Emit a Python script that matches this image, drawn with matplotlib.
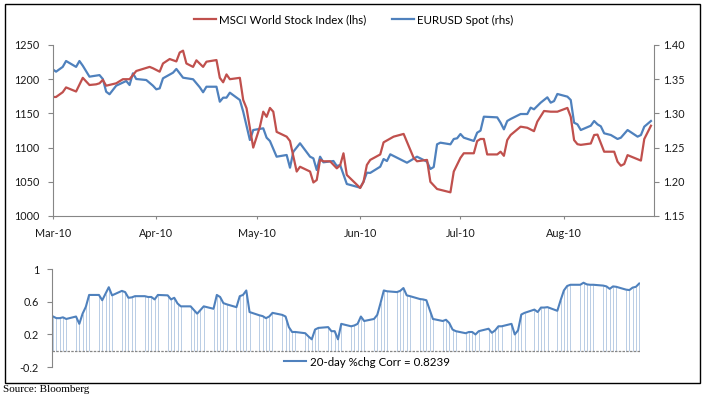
import numpy as np
import pandas as pd
import matplotlib
matplotlib.use("Agg")
import matplotlib.pyplot as plt
import matplotlib.dates as mdates
from matplotlib.patches import Rectangle

plt.rcParams['font.family'] = ['Lato', 'DejaVu Sans']

# MSCI World Stock Index (lhs)
msci_dates = ['2010-03-01', '2010-03-02', '2010-03-04', '2010-03-05', '2010-03-07', '2010-03-08',
              '2010-03-10', '2010-03-12', '2010-03-14', '2010-03-15', '2010-03-16', '2010-03-17',
              '2010-03-20', '2010-03-22', '2010-03-24', '2010-03-26', '2010-03-27', '2010-03-30',
              '2010-03-31', '2010-04-02', '2010-04-03', '2010-04-05', '2010-04-07', '2010-04-08',
              '2010-04-09', '2010-04-10', '2010-04-12', '2010-04-13', '2010-04-15', '2010-04-16',
              '2010-04-19', '2010-04-20', '2010-04-21', '2010-04-22', '2010-04-23', '2010-04-26',
              '2010-04-27', '2010-04-28', '2010-04-30', '2010-05-02', '2010-05-03', '2010-05-04',
              '2010-05-05', '2010-05-06', '2010-05-07', '2010-05-10', '2010-05-11', '2010-05-13',
              '2010-05-14', '2010-05-17', '2010-05-18', '2010-05-19', '2010-05-20', '2010-05-21',
              '2010-05-23', '2010-05-25', '2010-05-26', '2010-05-27', '2010-05-28', '2010-06-01',
              '2010-06-02', '2010-06-03', '2010-06-04', '2010-06-07', '2010-06-08', '2010-06-11',
              '2010-06-14', '2010-06-17', '2010-06-18', '2010-06-21', '2010-06-22', '2010-06-24',
              '2010-06-28', '2010-06-29', '2010-07-01', '2010-07-02', '2010-07-05', '2010-07-06',
              '2010-07-07', '2010-07-08', '2010-07-09', '2010-07-12', '2010-07-13', '2010-07-14',
              '2010-07-15', '2010-07-16', '2010-07-19', '2010-07-21', '2010-07-23', '2010-07-24',
              '2010-07-26', '2010-07-28', '2010-07-30', '2010-08-02', '2010-08-03', '2010-08-04',
              '2010-08-05', '2010-08-06', '2010-08-09', '2010-08-10', '2010-08-11', '2010-08-13',
              '2010-08-16', '2010-08-17', '2010-08-18', '2010-08-19', '2010-08-20', '2010-08-24',
              '2010-08-25', '2010-08-27']
msci_vals = [1174, 1174, 1181, 1188, 1184, 1182,
             1202, 1191.5, 1192.5, 1194, 1199, 1190.5,
             1194, 1200, 1200, 1212, 1213.5, 1218,
             1216, 1211, 1223, 1229.5, 1226, 1239,
             1241.7, 1223, 1218, 1227.6, 1218, 1225.6,
             1228, 1202, 1195.5, 1207, 1200, 1202,
             1169.6, 1157.5, 1100, 1130.6, 1152.5, 1145,
             1158, 1152.5, 1123, 1116, 1109.6, 1065,
             1072, 1065, 1049, 1052.6, 1082, 1080,
             1080, 1069.7, 1074, 1091.7, 1060, 1041,
             1050, 1074.6, 1082, 1090, 1107.7, 1116,
             1120, 1085, 1080, 1082, 1050, 1039.5,
             1034.6, 1065, 1085, 1091.7, 1091.7, 1109.6,
             1112.6, 1112.6, 1090, 1090, 1094, 1088,
             1111, 1118.4, 1130.6, 1129, 1124, 1138,
             1153.5, 1152.5, 1152.5, 1158, 1145, 1111,
             1105, 1104, 1106, 1118.4, 1119, 1094,
             1094, 1079.4, 1073.5, 1076, 1089, 1081,
             1112.6, 1132]

# EURUSD Spot (rhs)
eur_dates = ['2010-03-01', '2010-03-02', '2010-03-04', '2010-03-05', '2010-03-08', '2010-03-09',
             '2010-03-10', '2010-03-12', '2010-03-15', '2010-03-16', '2010-03-17', '2010-03-18',
             '2010-03-20', '2010-03-23', '2010-03-24', '2010-03-25', '2010-03-26', '2010-03-29',
             '2010-03-31', '2010-04-01', '2010-04-02', '2010-04-03', '2010-04-06', '2010-04-07',
             '2010-04-09', '2010-04-12', '2010-04-14', '2010-04-15', '2010-04-16', '2010-04-19',
             '2010-04-20', '2010-04-21', '2010-04-22', '2010-04-23', '2010-04-26', '2010-04-27',
             '2010-04-29', '2010-04-30', '2010-05-03', '2010-05-04', '2010-05-05', '2010-05-07',
             '2010-05-10', '2010-05-11', '2010-05-12', '2010-05-14', '2010-05-17', '2010-05-18',
             '2010-05-19', '2010-05-20', '2010-05-21', '2010-05-24', '2010-05-25', '2010-05-26',
             '2010-05-28', '2010-06-01', '2010-06-02', '2010-06-03', '2010-06-04', '2010-06-07',
             '2010-06-08', '2010-06-09', '2010-06-10', '2010-06-15', '2010-06-18', '2010-06-21',
             '2010-06-22', '2010-06-23', '2010-06-24', '2010-06-25', '2010-06-28', '2010-06-29',
             '2010-06-30', '2010-07-01', '2010-07-02', '2010-07-05', '2010-07-06', '2010-07-07',
             '2010-07-08', '2010-07-12', '2010-07-13', '2010-07-14', '2010-07-15', '2010-07-16',
             '2010-07-19', '2010-07-21', '2010-07-22', '2010-07-23', '2010-07-25', '2010-07-27',
             '2010-07-28', '2010-07-29', '2010-07-30', '2010-08-02', '2010-08-03', '2010-08-04',
             '2010-08-05', '2010-08-06', '2010-08-09', '2010-08-10', '2010-08-11', '2010-08-12',
             '2010-08-13', '2010-08-15', '2010-08-17', '2010-08-18', '2010-08-20', '2010-08-23',
             '2010-08-24', '2010-08-25', '2010-08-27']
eur_vals = [1.3645, 1.361, 1.368, 1.3766, 1.368, 1.3766,
            1.3697, 1.3537, 1.356, 1.3503, 1.3317, 1.328,
            1.3405, 1.3474, 1.3415, 1.3586, 1.3503, 1.3488,
            1.3405, 1.3352, 1.3366, 1.3513, 1.3595, 1.365,
            1.3522, 1.3499, 1.3382, 1.3309, 1.339, 1.339,
            1.3171, 1.323, 1.323, 1.3303, 1.3196, 1.3025,
            1.2611, 1.2757, 1.2782, 1.2645, 1.2596, 1.2367,
            1.2392, 1.2206, 1.244, 1.2563, 1.2367, 1.2343,
            1.2172, 1.2367, 1.2285, 1.2304, 1.2231, 1.2245,
            1.1968, 1.1914, 1.2001, 1.2133, 1.213, 1.2221,
            1.2333, 1.2304, 1.2402, 1.2279, 1.2367, 1.2294,
            1.2187, 1.2216, 1.2548, 1.2572, 1.2548, 1.2626,
            1.2636, 1.2699, 1.2645, 1.2597, 1.2718, 1.2748,
            1.2952, 1.2942, 1.2864, 1.2767, 1.2889, 1.2918,
            1.2991, 1.2991, 1.3084, 1.306, 1.3157, 1.3235,
            1.3157, 1.318, 1.3284, 1.3245, 1.3196, 1.2864,
            1.284, 1.2757, 1.282, 1.2889, 1.284, 1.2811,
            1.2709, 1.2684, 1.2626, 1.2645, 1.2757, 1.266,
            1.2684, 1.2806, 1.2889]

# 20-day %chg correlation, one value per business day Mar 1 - Aug 27
corr_vals = [0.42, 0.40, 0.40, 0.41, 0.39,
             0.42, 0.33, 0.455, 0.54, 0.685,
             0.685, 0.62, 0.70, 0.78, 0.68,
             0.735, 0.72, 0.65, 0.655, 0.67,
             0.67, 0.66, 0.66, 0.63, 0.685,
             0.68, 0.63, 0.65, 0.58, 0.545,
             0.545, 0.50, 0.455, 0.50, 0.545,
             0.515, 0.685, 0.66, 0.585, 0.57,
             0.535, 0.67, 0.685, 0.74, 0.475,
             0.435, 0.425, 0.40, 0.42, 0.465,
             0.44, 0.42, 0.29, 0.23, 0.23,
             0.215, 0.175, 0.14, 0.26, 0.28,
             0.29, 0.24, 0.24, 0.14, 0.33,
             0.30, 0.31, 0.33, 0.42, 0.365,
             0.39, 0.44, 0.585, 0.74, 0.73,
             0.72, 0.735, 0.77, 0.68, 0.67,
             0.635, 0.63, 0.62, 0.505, 0.39,
             0.365, 0.38, 0.34, 0.26, 0.24,
             0.215, 0.23, 0.23, 0.20, 0.24,
             0.27, 0.22, 0.25, 0.30, 0.30,
             0.33, 0.20, 0.25, 0.445, 0.465,
             0.505, 0.475, 0.53, 0.53, 0.535,
             0.49, 0.62, 0.74, 0.795, 0.81,
             0.81, 0.835, 0.815, 0.81, 0.81,
             0.80, 0.79, 0.76, 0.79, 0.785,
             0.75, 0.745, 0.775, 0.785, 0.825]
corr_dates = pd.bdate_range('2010-03-01', '2010-08-27')

RED = '#C0504D'
BLUE = '#4F81BD'
DROP = '#B9CDE5'
AXC = '#868686'
TXT = '#1a1a1a'
W, H = 705, 396

fig = plt.figure(figsize=(W / 100, H / 100), dpi=100)

# outer frame
fig.patches.append(Rectangle((5 / W, 1 - 382.5 / H), 695 / W, 379 / H, transform=fig.transFigure,
                             fill=False, edgecolor='black', lw=1.0))

# ---- top chart ----
ax = fig.add_axes([52.7 / W, 1 - 216 / H, 601.6 / W, 171 / H])
ax2 = ax.twinx()
l1, = ax.plot(pd.to_datetime(msci_dates), msci_vals, color=RED, lw=1.6,
              label='MSCI World Stock Index (lhs)')
l2, = ax2.plot(pd.to_datetime(eur_dates), eur_vals, color=BLUE, lw=1.6,
               label='EURUSD Spot (rhs)')
ax.set_zorder(ax2.get_zorder() + 1)
ax.patch.set_visible(False)

ax.set_xlim(pd.Timestamp('2010-03-01'), pd.Timestamp('2010-08-28'))
ax.set_ylim(1000, 1250)
ax.set_yticks(np.arange(1000, 1251, 50))
ax2.set_ylim(1.15, 1.40)
ax2.set_yticks(np.arange(1.15, 1.401, 0.05))
ax2.yaxis.set_major_formatter(plt.FormatStrFormatter('%.2f'))
ax.xaxis.set_major_locator(mdates.MonthLocator())
ax.xaxis.set_major_formatter(mdates.DateFormatter('%b-%y'))

for a in (ax, ax2):
    a.spines['top'].set_visible(False)
    for s in a.spines.values():
        s.set_color(AXC)
ax.spines['right'].set_visible(False)
ax2.spines['left'].set_visible(False)
ax2.spines['bottom'].set_visible(False)
ax.tick_params(axis='y', length=3.6, width=0.8, color=AXC, pad=6, labelsize=7.8, labelcolor=TXT)
ax.tick_params(axis='x', length=2.5, width=0.8, color=AXC, pad=6, labelsize=7.8, labelcolor=TXT)
ax2.tick_params(axis='y', length=3.6, width=0.8, color=AXC, pad=3, labelsize=7.8, labelcolor=TXT)

fig.legend(handles=[l1, l2], loc='center', bbox_to_anchor=(353.5 / W, 1 - 20 / H), ncol=2,
           frameon=False, fontsize=8.3, handlelength=1.9, handletextpad=0.3, columnspacing=2.2)

# ---- bottom chart ----
bx = fig.add_axes([52.3 / W, 1 - 367 / H, 587.7 / W, 97.7 / H])
bx.vlines(corr_dates, 0, corr_vals, color=DROP, lw=0.7)
l3, = bx.plot(corr_dates, corr_vals, color=BLUE, lw=1.5, label='20-day %chg Corr = 0.8239')
bx.axhline(0, color=AXC, lw=0.9, ls=(0, (2, 1)))
bx.set_xlim(pd.Timestamp('2010-03-01') - pd.Timedelta(hours=6), pd.Timestamp('2010-08-27') + pd.Timedelta(hours=6))
bx.set_ylim(-0.2, 1.0)
bx.set_yticks([-0.2, 0.2, 0.6, 1.0])
bx.set_yticklabels(['-0.2', '0.2', '0.6', '1'])
bx.set_xticks([])
for s in ('top', 'right', 'bottom'):
    bx.spines[s].set_visible(False)
bx.spines['left'].set_color(AXC)
bx.tick_params(axis='y', length=3.6, width=0.8, color=AXC, pad=6, labelsize=7.8, labelcolor=TXT)
fig.legend(handles=[l3], loc='center', bbox_to_anchor=(367 / W, 1 - 362 / H), frameon=False,
           fontsize=8.3, handlelength=1.9, handletextpad=0.3)

fig.text(3 / W, 1 - 390 / H, 'Source: Bloomberg', family='Liberation Serif', fontsize=8,
         ha='left', va='center', color='black')

fig.savefig('out.png', dpi=100)
